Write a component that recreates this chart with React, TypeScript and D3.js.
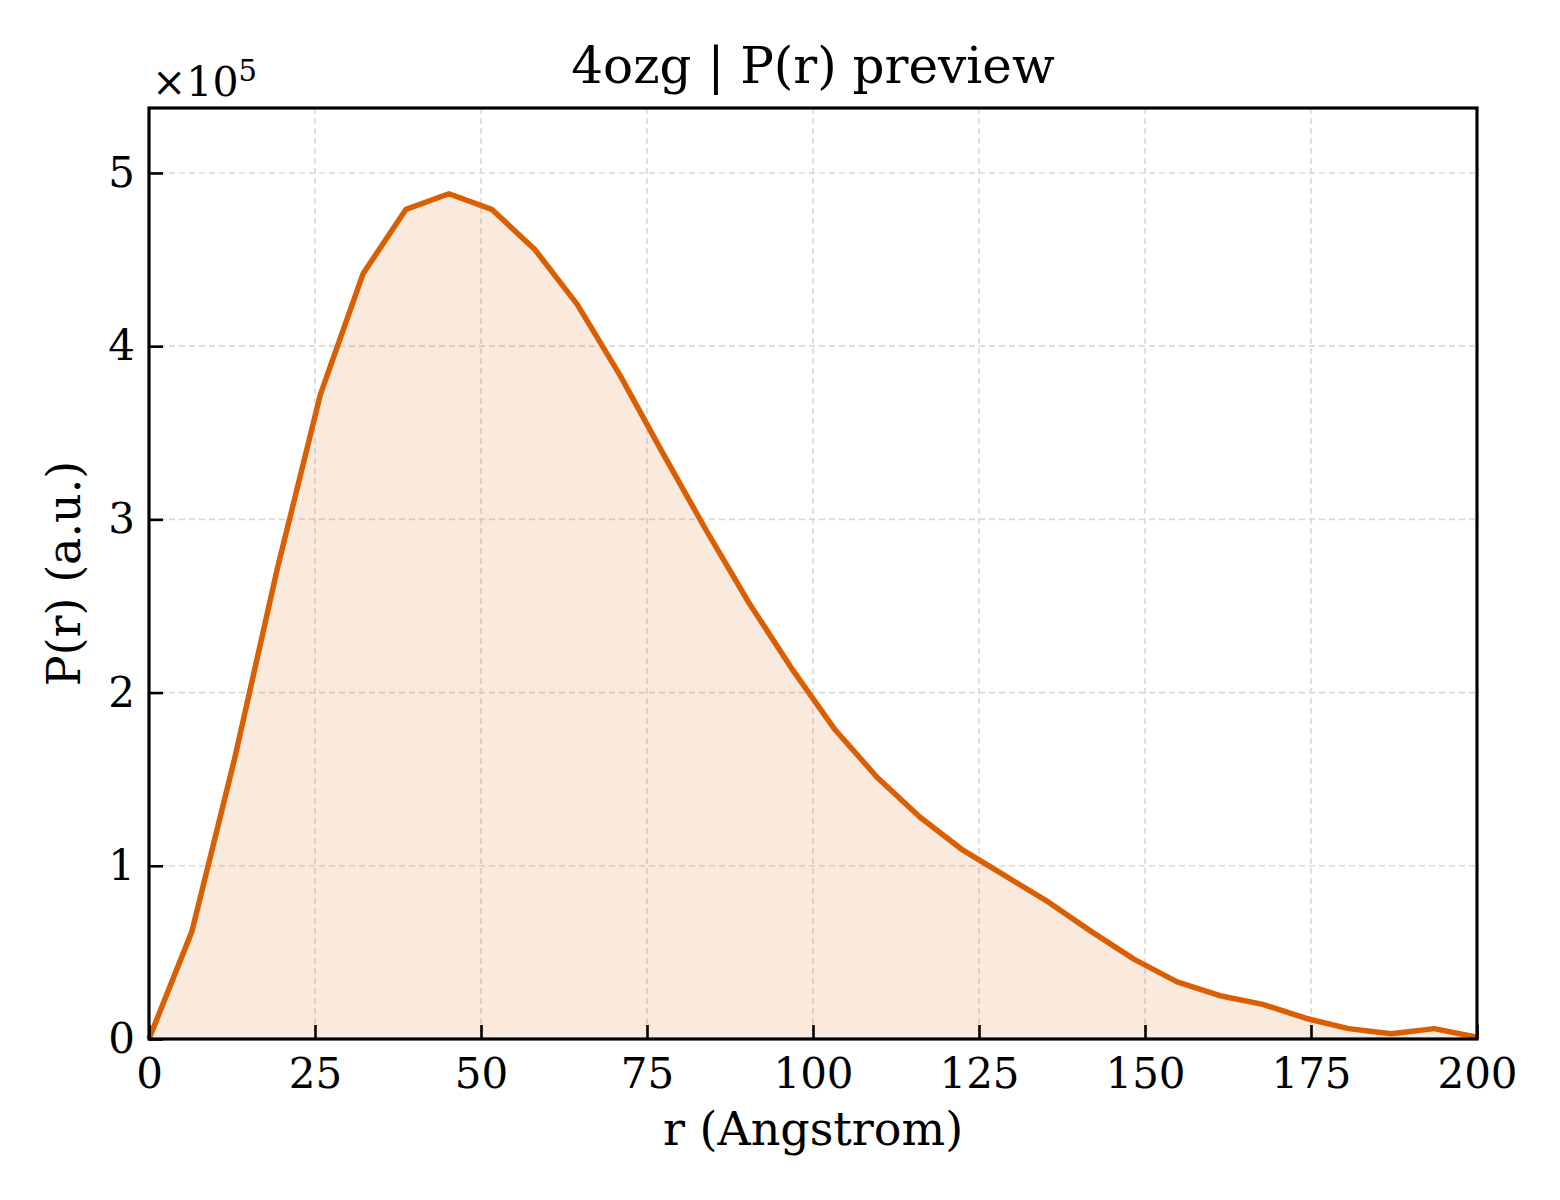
import * as React from 'react';
import * as d3 from 'd3';

// r in Angstrom, 32 samples from 0 to 200
const rValues = d3.range(32).map((i) => (i * 200) / 31);
// P(r) in units of 1e5
const prValues = [
  0, 0.62, 1.62, 2.72, 3.72, 4.42, 4.79, 4.88, 4.79, 4.56,
  4.24, 3.83, 3.38, 2.94, 2.52, 2.14, 1.79, 1.51, 1.28, 1.09,
  0.94, 0.79, 0.62, 0.46, 0.33, 0.25, 0.2, 0.12, 0.06, 0.03,
  0.06, 0.01,
];
const xTicks = [0, 25, 50, 75, 100, 125, 150, 175, 200];
const yTicks = [0, 1, 2, 3, 4, 5];

const W = 1560;
const H = 1200;
const margin = { top: 108, right: 83, bottom: 161, left: 149 };
const font = '"DejaVu Serif", serif';
const orange = '#d95f02';

class PrChart extends React.Component {
  private element;

  componentDidMount() {
    this.draw();
  }

  draw() {
    const width = W - margin.left - margin.right;
    const height = H - margin.top - margin.bottom;
    const svg = d3.select(this.element).attr('width', W).attr('height', H);
    svg.selectAll('*').remove();
    svg.append('rect').attr('width', W).attr('height', H).attr('fill', '#fff');

    const g = svg.append('g').attr('transform', `translate(${margin.left}, ${margin.top})`);

    const x = d3.scaleLinear().domain([0, 200]).range([0, width]);
    const y = d3.scaleLinear().domain([0, 5.375]).range([height, 0]);

    // grid
    g.selectAll('.gx').data(xTicks).enter().append('line')
      .attr('x1', (d) => x(d)).attr('x2', (d) => x(d))
      .attr('y1', 0).attr('y2', height)
      .attr('stroke', '#d9d9d9').attr('stroke-width', 1.6)
      .attr('stroke-dasharray', '6,4');
    g.selectAll('.gy').data(yTicks).enter().append('line')
      .attr('x1', 0).attr('x2', width)
      .attr('y1', (d) => y(d)).attr('y2', (d) => y(d))
      .attr('stroke', '#d9d9d9').attr('stroke-width', 1.6)
      .attr('stroke-dasharray', '6,4');

    const pts = rValues.map((r, i) => [r, prValues[i]] as [number, number]);

    const area = d3.area<[number, number]>()
      .x((d) => x(d[0])).y0(y(0)).y1((d) => y(d[1]));
    g.append('path').datum(pts).attr('d', area)
      .attr('fill', orange).attr('fill-opacity', 0.13);

    const line = d3.line<[number, number]>().x((d) => x(d[0])).y((d) => y(d[1]));
    g.append('path').datum(pts).attr('d', line)
      .attr('fill', 'none').attr('stroke', orange)
      .attr('stroke-width', 5.5).attr('stroke-linejoin', 'round');

    // axes with inward ticks
    const xAxis = d3.axisBottom(x).tickValues(xTicks).tickFormat(d3.format('d'))
      .tickSizeInner(-14).tickSizeOuter(0).tickPadding(19);
    const xg = g.append('g').attr('transform', `translate(0, ${height})`).call(xAxis);
    const yAxis = d3.axisLeft(y).tickValues(yTicks).tickFormat(d3.format('d'))
      .tickSizeInner(-14).tickSizeOuter(0).tickPadding(14);
    const yg = g.append('g').call(yAxis);
    [xg, yg].forEach((a) => {
      a.select('.domain').remove();
      a.selectAll('.tick line').attr('stroke', '#000').attr('stroke-width', 2.6);
      a.selectAll('.tick text').attr('font-family', font).attr('font-size', 42).attr('fill', '#000');
    });

    // frame
    g.append('rect').attr('width', width).attr('height', height)
      .attr('fill', 'none').attr('stroke', '#000').attr('stroke-width', 3.2);

    // offset label
    const off = svg.append('text').attr('x', 152).attr('y', 96)
      .attr('font-family', font).attr('font-size', 41).attr('fill', '#000');
    off.append('tspan').text('×10');
    off.append('tspan').attr('dy', -15).attr('font-size', 29).text('5');

    svg.append('text')
      .attr('x', margin.left + width / 2).attr('y', 83)
      .attr('text-anchor', 'middle').attr('font-family', font).attr('font-size', 50)
      .text('4ozg | P(r) preview');

    svg.append('text')
      .attr('x', margin.left + width / 2).attr('y', 1145)
      .attr('text-anchor', 'middle').attr('font-family', font).attr('font-size', 46)
      .text('r (Angstrom)');

    svg.append('text')
      .attr('transform', `translate(80, ${margin.top + height / 2}) rotate(-90)`)
      .attr('text-anchor', 'middle').attr('font-family', font).attr('font-size', 46)
      .text('P(r) (a.u.)');
  }

  render() {
    return <svg ref={(ref) => (this.element = ref)} />;
  }
}

export default function App() {
  return (
    <div style={{ position: 'absolute', left: 0, top: 0 }}>
      <PrChart />
    </div>
  );
}
